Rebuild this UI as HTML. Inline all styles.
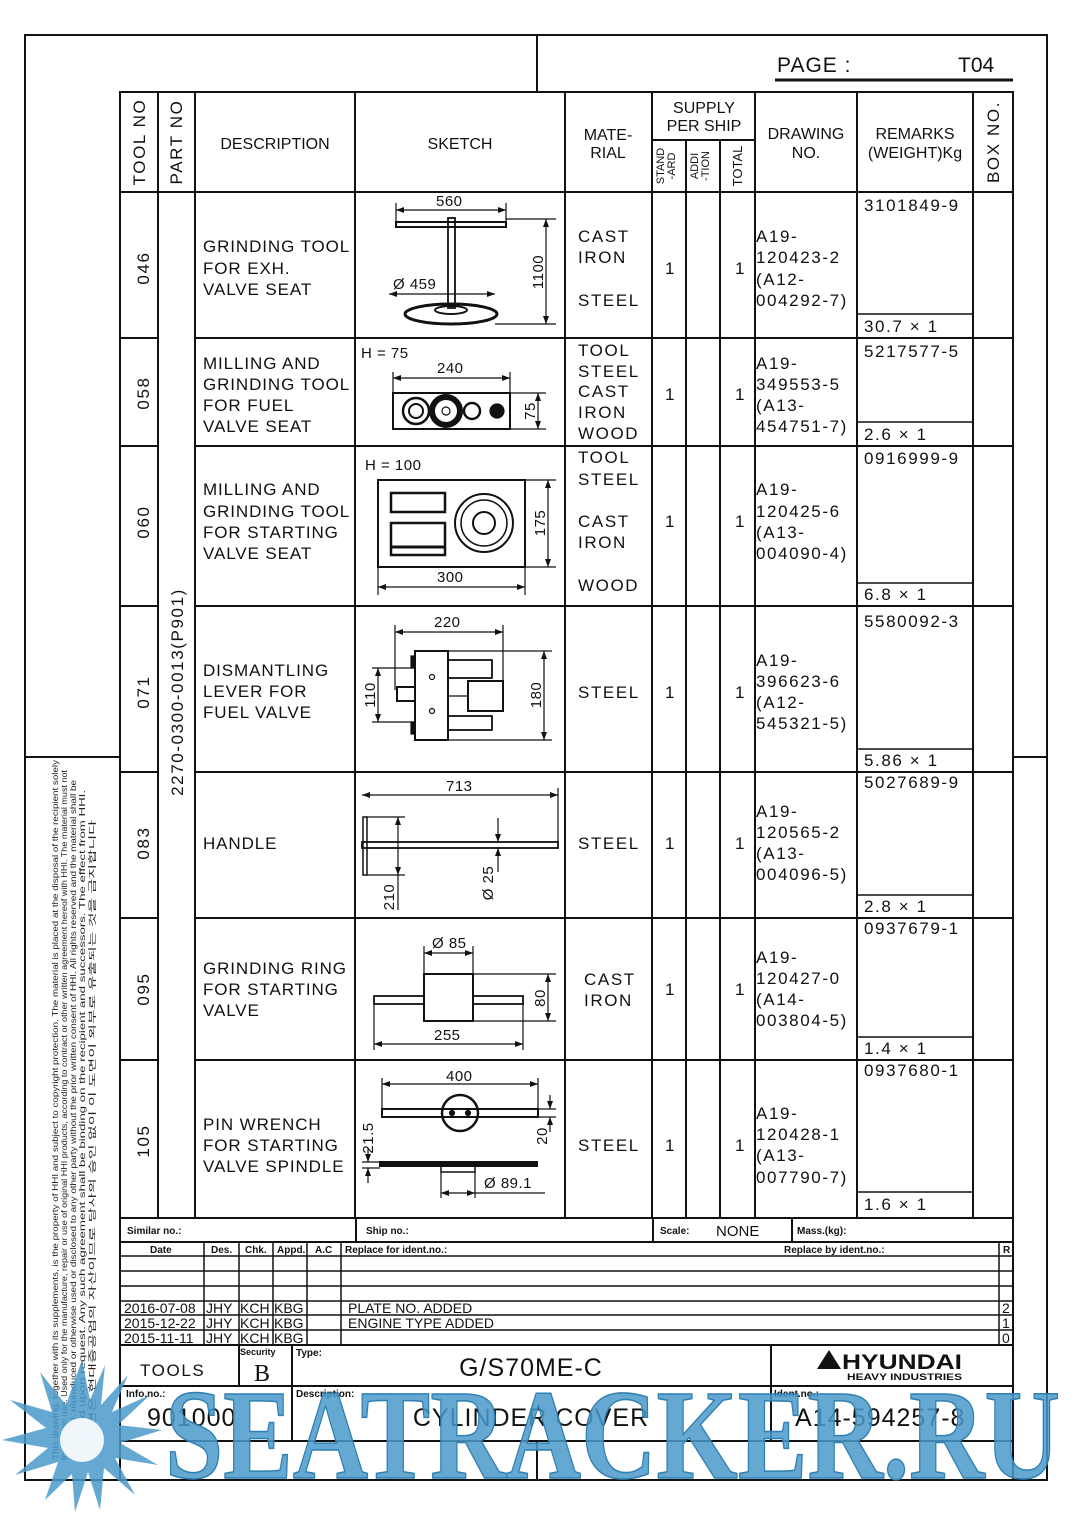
<!DOCTYPE html>
<html><head><meta charset="utf-8"><style>
html,body{margin:0;padding:0;background:#fff}
svg{display:block}
.t{font-family:"Liberation Sans",sans-serif;font-size:17px;letter-spacing:1.6px;fill:#111}
.e{font-family:"Liberation Sans",sans-serif;font-size:17px;letter-spacing:0.9px;fill:#111}
.n{font-family:"Liberation Sans Narrow","Liberation Sans",sans-serif;fill:#111}
.d{font-family:"Liberation Sans",sans-serif;font-size:15px;letter-spacing:0.5px;fill:#111}
.s{font-family:"Liberation Sans Narrow","Liberation Sans",sans-serif;font-size:10px;font-weight:bold;fill:#111}
</style></head><body>
<svg width="1080" height="1515" viewBox="0 0 1080 1515" xmlns="http://www.w3.org/2000/svg">
<defs><marker id="a" markerWidth="8" markerHeight="6" refX="8" refY="3" orient="auto-start-reverse" markerUnits="userSpaceOnUse"><path d="M0,0 L8,3 L0,6z" fill="#111"/></marker></defs>
<g fill="none" stroke="#111" stroke-width="2">
<rect x="25" y="35" width="1022" height="1445"/>
<line x1="537" y1="35" x2="537" y2="92"/>
<line x1="25" y1="757" x2="120" y2="757"/>
<line x1="1013" y1="757" x2="1047" y2="757"/>
<line x1="775" y1="80" x2="1013" y2="80" stroke-width="3"/>
<rect x="120" y="92" width="893" height="1126"/>
<line x1="120" y1="192" x2="1013" y2="192"/>
<g>
<line x1="158" y1="92" x2="158" y2="1218"/><line x1="195" y1="92" x2="195" y2="1218"/>
<line x1="355" y1="92" x2="355" y2="1218"/><line x1="565" y1="92" x2="565" y2="1218"/>
<line x1="652" y1="92" x2="652" y2="1218"/><line x1="686" y1="140" x2="686" y2="1218"/>
<line x1="720" y1="140" x2="720" y2="1218"/><line x1="755" y1="92" x2="755" y2="1218"/>
<line x1="857" y1="92" x2="857" y2="1218"/><line x1="973" y1="92" x2="973" y2="1218"/>
<line x1="652" y1="140" x2="755" y2="140"/>
</g>
<g>
<line x1="120" y1="338" x2="158" y2="338"/><line x1="195" y1="338" x2="1013" y2="338"/>
<line x1="120" y1="446" x2="158" y2="446"/><line x1="195" y1="446" x2="1013" y2="446"/>
<line x1="120" y1="606" x2="158" y2="606"/><line x1="195" y1="606" x2="1013" y2="606"/>
<line x1="120" y1="772" x2="158" y2="772"/><line x1="195" y1="772" x2="1013" y2="772"/>
<line x1="120" y1="918" x2="158" y2="918"/><line x1="195" y1="918" x2="1013" y2="918"/>
<line x1="120" y1="1060" x2="158" y2="1060"/><line x1="195" y1="1060" x2="1013" y2="1060"/>
</g>
<g stroke-width="1.5">
<line x1="857" y1="314" x2="973" y2="314"/><line x1="857" y1="422" x2="973" y2="422"/>
<line x1="857" y1="583" x2="973" y2="583"/><line x1="857" y1="749" x2="973" y2="749"/>
<line x1="857" y1="895" x2="973" y2="895"/><line x1="857" y1="1037" x2="973" y2="1037"/>
<line x1="857" y1="1192" x2="973" y2="1192"/>
</g>
<line x1="120" y1="1218" x2="120" y2="1480"/><line x1="1013" y1="1218" x2="1013" y2="1480"/>
<line x1="120" y1="1242" x2="1013" y2="1242"/>
<line x1="356" y1="1218" x2="356" y2="1242"/><line x1="653" y1="1218" x2="653" y2="1242"/><line x1="792" y1="1218" x2="792" y2="1242"/>
<g stroke-width="1.5">
<line x1="120" y1="1256" x2="1013" y2="1256"/><line x1="120" y1="1271" x2="1013" y2="1271"/>
<line x1="120" y1="1286" x2="1013" y2="1286"/><line x1="120" y1="1301" x2="1013" y2="1301"/>
<line x1="120" y1="1315" x2="1013" y2="1315"/><line x1="120" y1="1330" x2="1013" y2="1330"/>
<line x1="204" y1="1242" x2="204" y2="1345"/><line x1="239" y1="1242" x2="239" y2="1345"/>
<line x1="273" y1="1242" x2="273" y2="1345"/><line x1="307" y1="1242" x2="307" y2="1345"/>
<line x1="341" y1="1242" x2="341" y2="1345"/><line x1="999" y1="1242" x2="999" y2="1345"/>
</g>
<line x1="120" y1="1345" x2="1013" y2="1345"/>
<line x1="239" y1="1345" x2="239" y2="1386"/><line x1="292" y1="1345" x2="292" y2="1441"/><line x1="771" y1="1345" x2="771" y2="1441"/>
<line x1="120" y1="1386" x2="1013" y2="1386"/>
<line x1="120" y1="1441" x2="1013" y2="1441"/>
<line x1="537" y1="1441" x2="537" y2="1480"/>
</g>
<text class="n" x="777" y="72" font-size="21" letter-spacing="1">PAGE :</text>
<text class="n" x="958" y="72" font-size="21">T04</text>
<g class="n" font-size="16" text-anchor="middle">
<text transform="translate(145,142) rotate(-90)" class="t" font-size="15" letter-spacing="1">TOOL NO</text>
<text transform="translate(182,142) rotate(-90)" class="t" font-size="15" letter-spacing="1">PART NO</text>
<text x="275" y="149">DESCRIPTION</text>
<text x="460" y="149">SKETCH</text>
<text x="608" y="140">MATE-</text><text x="608" y="158">RIAL</text>
<text x="704" y="113">SUPPLY</text><text x="704" y="131">PER SHIP</text>
<text x="806" y="139">DRAWING</text><text x="806" y="158">NO.</text>
<text x="915" y="139">REMARKS</text><text x="915" y="158">(WEIGHT)Kg</text>
<text transform="translate(999,142) rotate(-90)" class="t" font-size="15" letter-spacing="1">BOX NO.</text>
</g>
<g font-family="Liberation Sans,sans-serif" font-size="11" fill="#111" text-anchor="middle">
<text transform="translate(664,166) rotate(-90)">STAND</text><text transform="translate(675,166) rotate(-90)">-ARD</text>
<text transform="translate(698,166) rotate(-90)">ADDI</text><text transform="translate(709,166) rotate(-90)">-TION</text>
<text transform="translate(742,166) rotate(-90)" font-size="13">TOTAL</text>
</g>
<g class="t" font-size="18" text-anchor="middle" letter-spacing="1">
<text transform="translate(149,268) rotate(-90)">046</text>
<text transform="translate(149,393) rotate(-90)">058</text>
<text transform="translate(149,522) rotate(-90)">060</text>
<text transform="translate(149,692) rotate(-90)">071</text>
<text transform="translate(149,843) rotate(-90)">083</text>
<text transform="translate(149,989) rotate(-90)">095</text>
<text transform="translate(149,1141) rotate(-90)">105</text>
<text transform="translate(183,692) rotate(-90)">2270-0300-0013(P901)</text>
</g>
<g class="e">
<text x="203" y="252">GRINDING TOOL</text><text x="203" y="274">FOR EXH.</text><text x="203" y="295">VALVE SEAT</text>
<text x="203" y="369">MILLING AND</text><text x="203" y="390">GRINDING TOOL</text><text x="203" y="411">FOR FUEL</text><text x="203" y="432">VALVE SEAT</text>
<text x="203" y="495">MILLING AND</text><text x="203" y="517">GRINDING TOOL</text><text x="203" y="538">FOR STARTING</text><text x="203" y="559">VALVE SEAT</text>
<text x="203" y="676">DISMANTLING</text><text x="203" y="697">LEVER FOR</text><text x="203" y="718">FUEL VALVE</text>
<text x="203" y="849">HANDLE</text>
<text x="203" y="974">GRINDING RING</text><text x="203" y="995">FOR STARTING</text><text x="203" y="1016">VALVE</text>
<text x="203" y="1130">PIN WRENCH</text><text x="203" y="1151">FOR STARTING</text><text x="203" y="1172">VALVE SPINDLE</text>
</g>
<g class="t">
<text x="578" y="242">CAST</text><text x="578" y="263">IRON</text><text x="578" y="306">STEEL</text>
<text x="578" y="356">TOOL</text><text x="578" y="377">STEEL</text><text x="578" y="397">CAST</text><text x="578" y="418">IRON</text><text x="578" y="439">WOOD</text>
<text x="578" y="463">TOOL</text><text x="578" y="485">STEEL</text><text x="578" y="527">CAST</text><text x="578" y="548">IRON</text><text x="578" y="591">WOOD</text>
<text x="578" y="698">STEEL</text><text x="578" y="849">STEEL</text>
<text x="584" y="985">CAST</text><text x="584" y="1006">IRON</text>
<text x="578" y="1151">STEEL</text>
<text x="665" y="274">1</text><text x="735" y="274">1</text>
<text x="665" y="400">1</text><text x="735" y="400">1</text>
<text x="665" y="527">1</text><text x="735" y="527">1</text>
<text x="665" y="698">1</text><text x="735" y="698">1</text>
<text x="665" y="849">1</text><text x="735" y="849">1</text>
<text x="665" y="995">1</text><text x="735" y="995">1</text>
<text x="665" y="1151">1</text><text x="735" y="1151">1</text>
<text x="756" y="242">A19-</text><text x="756" y="263">120423-2</text><text x="756" y="285">(A12-</text><text x="756" y="306">004292-7)</text>
<text x="756" y="369">A19-</text><text x="756" y="390">349553-5</text><text x="756" y="411">(A13-</text><text x="756" y="432">454751-7)</text>
<text x="756" y="495">A19-</text><text x="756" y="517">120425-6</text><text x="756" y="538">(A13-</text><text x="756" y="559">004090-4)</text>
<text x="756" y="666">A19-</text><text x="756" y="687">396623-6</text><text x="756" y="708">(A12-</text><text x="756" y="729">545321-5)</text>
<text x="756" y="817">A19-</text><text x="756" y="838">120565-2</text><text x="756" y="859">(A13-</text><text x="756" y="880">004096-5)</text>
<text x="756" y="963">A19-</text><text x="756" y="984">120427-0</text><text x="756" y="1005">(A14-</text><text x="756" y="1026">003804-5)</text>
<text x="756" y="1119">A19-</text><text x="756" y="1140">120428-1</text><text x="756" y="1161">(A13-</text><text x="756" y="1183">007790-7)</text>
<text x="864" y="211">3101849-9</text><text x="864" y="332">30.7 × 1</text>
<text x="864" y="357">5217577-5</text><text x="864" y="440">2.6 × 1</text>
<text x="864" y="464">0916999-9</text><text x="864" y="600">6.8 × 1</text>
<text x="864" y="627">5580092-3</text><text x="864" y="766">5.86 × 1</text>
<text x="864" y="788">5027689-9</text><text x="864" y="912">2.8 × 1</text>
<text x="864" y="934">0937679-1</text><text x="864" y="1054">1.4 × 1</text>
<text x="864" y="1076">0937680-1</text><text x="864" y="1210">1.6 × 1</text>
</g>
<g fill="none" stroke="#111" stroke-width="1.2">
<line x1="396" y1="210" x2="506" y2="210" marker-start="url(#a)" marker-end="url(#a)"/>
<line x1="396" y1="203" x2="396" y2="222"/><line x1="506" y1="203" x2="506" y2="222"/>
<rect x="396" y="222" width="110" height="5" stroke-width="2"/>
<rect x="448" y="218" width="7" height="90" stroke-width="1.8"/>
<ellipse cx="451" cy="314" rx="46" ry="10" stroke-width="3"/>
<ellipse cx="451" cy="310" rx="16" ry="4" stroke-width="2"/>
<line x1="389" y1="294" x2="495" y2="294" marker-start="url(#a)" marker-end="url(#a)"/>
<line x1="506" y1="219" x2="556" y2="219"/><line x1="495" y1="324" x2="556" y2="324"/>
<line x1="546" y1="219" x2="546" y2="324" marker-start="url(#a)" marker-end="url(#a)"/>
<line x1="393" y1="378" x2="510" y2="378" marker-start="url(#a)" marker-end="url(#a)"/>
<line x1="393" y1="372" x2="393" y2="393"/><line x1="510" y1="372" x2="510" y2="393"/>
<rect x="393" y="393" width="117" height="36" stroke-width="2"/>
<circle cx="416" cy="411" r="13" stroke-width="2.5"/><circle cx="416" cy="411" r="7" stroke-width="2"/>
<circle cx="446" cy="411" r="14" stroke-width="6"/><circle cx="446" cy="411" r="4"/>
<circle cx="472" cy="411" r="8" stroke-width="2.5"/>
<circle cx="497" cy="411" r="7" fill="#111"/>
<line x1="510" y1="393" x2="546" y2="393"/><line x1="510" y1="429" x2="546" y2="429"/>
<line x1="538" y1="393" x2="538" y2="429" marker-start="url(#a)" marker-end="url(#a)"/>
<rect x="378" y="480" width="147" height="87" stroke-width="2"/>
<rect x="391" y="493" width="54" height="19" stroke-width="2.5"/>
<rect x="391" y="523" width="54" height="32" stroke-width="2.5"/>
<line x1="392" y1="547" x2="444" y2="547" stroke-width="3"/>
<circle cx="484" cy="523" r="29" stroke-width="2"/><circle cx="484" cy="523" r="23" stroke-width="1.5"/><circle cx="484" cy="523" r="11" stroke-width="2"/>
<line x1="525" y1="480" x2="556" y2="480"/><line x1="525" y1="567" x2="556" y2="567"/>
<line x1="548" y1="480" x2="548" y2="567" marker-start="url(#a)" marker-end="url(#a)"/>
<line x1="378" y1="567" x2="378" y2="595"/><line x1="525" y1="567" x2="525" y2="595"/>
<line x1="378" y1="587" x2="525" y2="587" marker-start="url(#a)" marker-end="url(#a)"/>
<line x1="395" y1="632" x2="503" y2="632" marker-start="url(#a)" marker-end="url(#a)"/>
<line x1="395" y1="625" x2="395" y2="690"/><line x1="503" y1="625" x2="503" y2="681"/>
<rect x="415" y="651" width="33" height="89" stroke-width="2"/>
<rect x="448" y="660" width="44" height="18" stroke-width="1.8"/>
<rect x="448" y="716" width="44" height="14" stroke-width="1.8"/>
<rect x="468" y="681" width="35" height="30" stroke-width="2"/>
<line x1="448" y1="696" x2="468" y2="696"/>
<rect x="397" y="687" width="18" height="14" stroke-width="2"/>
<rect x="411" y="656" width="4" height="12" fill="#111"/><rect x="411" y="722" width="4" height="12" fill="#111"/>
<circle cx="432" cy="677" r="2.5"/><circle cx="432" cy="711" r="2.5"/>
<line x1="372" y1="668" x2="415" y2="668"/><line x1="372" y1="722" x2="415" y2="722"/>
<line x1="378" y1="668" x2="378" y2="722" marker-start="url(#a)" marker-end="url(#a)"/>
<line x1="448" y1="651" x2="552" y2="651"/><line x1="448" y1="740" x2="552" y2="740"/>
<line x1="544" y1="651" x2="544" y2="740" marker-start="url(#a)" marker-end="url(#a)"/>
<line x1="362" y1="795" x2="558" y2="795" marker-start="url(#a)" marker-end="url(#a)"/>
<line x1="558" y1="788" x2="558" y2="842"/>
<rect x="362" y="842" width="196" height="6" stroke-width="1.8"/>
<rect x="363" y="817" width="4" height="58" stroke-width="1.5"/>
<line x1="367" y1="817" x2="405" y2="817"/><line x1="367" y1="875" x2="405" y2="875"/>
<line x1="398" y1="817" x2="398" y2="875" marker-start="url(#a)" marker-end="url(#a)"/>
<line x1="398" y1="875" x2="398" y2="910"/>
<line x1="498" y1="818" x2="498" y2="842" marker-end="url(#a)"/>
<line x1="498" y1="872" x2="498" y2="848" marker-end="url(#a)"/>
<line x1="424" y1="953" x2="473" y2="953" marker-start="url(#a)" marker-end="url(#a)"/>
<line x1="424" y1="946" x2="424" y2="974"/><line x1="473" y1="946" x2="473" y2="974"/>
<rect x="424" y="974" width="49" height="47" stroke-width="2"/>
<rect x="374" y="996" width="50" height="8" stroke-width="1.8"/><rect x="473" y="996" width="50" height="8" stroke-width="1.8"/>
<line x1="473" y1="974" x2="556" y2="974"/><line x1="473" y1="1021" x2="556" y2="1021"/>
<line x1="548" y1="974" x2="548" y2="1021" marker-start="url(#a)" marker-end="url(#a)"/>
<line x1="374" y1="1004" x2="374" y2="1050"/><line x1="523" y1="1004" x2="523" y2="1050"/>
<line x1="374" y1="1044" x2="523" y2="1044" marker-start="url(#a)" marker-end="url(#a)"/>
<line x1="382" y1="1084" x2="538" y2="1084" marker-start="url(#a)" marker-end="url(#a)"/>
<line x1="382" y1="1078" x2="382" y2="1109"/><line x1="538" y1="1078" x2="538" y2="1109"/>
<rect x="382" y="1109" width="156" height="8" stroke-width="2"/>
<circle cx="460" cy="1113" r="18" stroke-width="2.5"/>
<circle cx="452" cy="1113" r="2.5" fill="#111"/><circle cx="468" cy="1113" r="2.5" fill="#111"/>
<line x1="538" y1="1109" x2="556" y2="1109"/><line x1="538" y1="1117" x2="556" y2="1117"/>
<line x1="550" y1="1095" x2="550" y2="1109" marker-end="url(#a)"/>
<line x1="550" y1="1132" x2="550" y2="1117" marker-end="url(#a)"/>
<rect x="380" y="1162" width="157" height="4" stroke-width="2" fill="#111"/>
<rect x="441" y="1166" width="34" height="6" stroke-width="1.5"/>
<line x1="362" y1="1162" x2="380" y2="1162"/><line x1="362" y1="1168" x2="380" y2="1168"/>
<line x1="368" y1="1148" x2="368" y2="1162" marker-end="url(#a)"/>
<line x1="368" y1="1183" x2="368" y2="1168" marker-end="url(#a)"/>
<line x1="441" y1="1172" x2="441" y2="1198"/><line x1="475" y1="1172" x2="475" y2="1198"/>
<line x1="441" y1="1193" x2="475" y2="1193" marker-start="url(#a)" marker-end="url(#a)"/>
<line x1="475" y1="1193" x2="545" y2="1193"/>
</g>
<g class="d">
<text x="436" y="206">560</text>
<text x="393" y="289">Ø 459</text>
<text transform="translate(543,272) rotate(-90)" text-anchor="middle">1100</text>
<text x="361" y="358">H  =  75</text>
<text x="437" y="373">240</text>
<text transform="translate(535,411) rotate(-90)" text-anchor="middle">75</text>
<text x="365" y="470">H  =  100</text>
<text transform="translate(545,523) rotate(-90)" text-anchor="middle">175</text>
<text x="437" y="582">300</text>
<text x="434" y="627">220</text>
<text transform="translate(375,695) rotate(-90)" text-anchor="middle">110</text>
<text transform="translate(541,695) rotate(-90)" text-anchor="middle">180</text>
<text x="446" y="791">713</text>
<text transform="translate(394,897) rotate(-90)" text-anchor="middle">210</text>
<text transform="translate(493,883) rotate(-90)" text-anchor="middle">Ø 25</text>
<text x="432" y="948">Ø 85</text>
<text transform="translate(545,998) rotate(-90)" text-anchor="middle">80</text>
<text x="434" y="1040">255</text>
<text x="446" y="1081">400</text>
<text transform="translate(547,1136) rotate(-90)" text-anchor="middle">20</text>
<text transform="translate(373,1138) rotate(-90)" text-anchor="middle">21.5</text>
<text x="484" y="1188">Ø 89.1</text>
</g>
<g class="s">
<text x="127" y="1234">Similar no.:</text><text x="366" y="1234">Ship no.:</text>
<text x="660" y="1234">Scale:</text><text x="797" y="1234">Mass.(kg):</text>
<text x="150" y="1253">Date</text><text x="211" y="1253">Des.</text><text x="245" y="1253">Chk.</text><text x="277" y="1253">Appd.</text><text x="315" y="1253">A.C</text>
<text x="345" y="1253">Replace for ident.no.:</text><text x="784" y="1253">Replace by ident.no.:</text><text x="1003" y="1253">R</text>
<text x="240" y="1355" font-size="9">Security</text><text x="296" y="1356">Type:</text>
<text x="126" y="1397">Info.no.:</text><text x="296" y="1397">Description:</text><text x="774" y="1397">Ident.no.:</text>
</g>
<text class="n" x="716" y="1236" font-size="15">NONE</text>
<g class="n" font-size="14">
<text x="124" y="1313">2016-07-08</text><text x="206" y="1313">JHY</text><text x="240" y="1313">KCH</text><text x="274" y="1313">KBG</text><text x="348" y="1313">PLATE NO. ADDED</text><text x="1002" y="1313">2</text>
<text x="124" y="1328">2015-12-22</text><text x="206" y="1328">JHY</text><text x="240" y="1328">KCH</text><text x="274" y="1328">KBG</text><text x="348" y="1328">ENGINE TYPE ADDED</text><text x="1002" y="1328">1</text>
<text x="124" y="1343">2015-11-11</text><text x="206" y="1343">JHY</text><text x="240" y="1343">KCH</text><text x="274" y="1343">KBG</text><text x="1002" y="1343">0</text>
</g>
<text class="t" x="140" y="1376" font-size="24" letter-spacing="0">TOOLS</text>
<text x="254" y="1381" font-family="Liberation Serif,serif" font-size="24" fill="#111">B</text>
<text class="n" x="531" y="1376" font-size="25" text-anchor="middle" fill="#333" letter-spacing="1">G/S70ME-C</text>
<path d="M817,1369 L829,1350 L841,1369z" fill="#111"/>
<text x="842" y="1369" font-family="Liberation Sans,sans-serif" font-weight="bold" font-size="21" fill="#111" textLength="120" lengthAdjust="spacingAndGlyphs">HYUNDAI</text>
<text x="847" y="1380" font-family="Liberation Sans,sans-serif" font-weight="bold" font-size="9" fill="#111" textLength="115" lengthAdjust="spacingAndGlyphs">HEAVY INDUSTRIES</text>
<text class="n" x="147" y="1426" font-size="25" letter-spacing="1">901000</text>
<text class="n" x="531" y="1426" font-size="25" text-anchor="middle" letter-spacing="1">CYLINDER COVER</text>
<text class="n" x="795" y="1426" font-size="25" letter-spacing="1">A14-594257-8</text>
<g font-family="Liberation Sans Narrow,Liberation Sans,sans-serif" font-size="8" fill="#222">
<text transform="translate(58,1460) rotate(-90)" textLength="700" lengthAdjust="spacingAndGlyphs">This drawing, together with its supplements, is the property of HHI and subject to copyright protection. The material is placed at the disposal of the recipient solely</text>
<text transform="translate(67,1460) rotate(-90)" textLength="690" lengthAdjust="spacingAndGlyphs">for its own use. Used only for the manufacture, repair or use of original HHI products, according to contract or other written agreement hereof with HHI. The material must not</text>
<text transform="translate(76,1460) rotate(-90)" textLength="680" lengthAdjust="spacingAndGlyphs">be copied, reproduced or otherwise used or disclosed to any other party without the prior written consent of HHI. All rights reserved and the material shall be</text>
<text transform="translate(85,1460) rotate(-90)" textLength="670" lengthAdjust="spacingAndGlyphs">returned upon request. Any such agreement shall be binding on the recipient and successors. The effect from HHI.</text>
<text transform="translate(95,1460) rotate(-90)" textLength="640" lengthAdjust="spacingAndGlyphs">이 도면은 현대중공업의 자산이므로 당사의 승인 없이 이 도면이 외부로 유출되는 것을 금지합니다</text>
</g>
<polygon points="82,1360 90,1400 105,1365 101,1405 128,1375 112,1412 150,1395 118,1425 162,1430 120,1443 158,1465 115,1458 135,1495 104,1468 100,1510 88,1472 75,1512 72,1474 45,1500 58,1462 15,1475 48,1448 2,1440 46,1428 10,1400 52,1412 40,1372 66,1405" fill="#4a9acb" opacity="0.85"/>
<circle cx="82" cy="1440" r="22" fill="#fff" opacity="0.9"/>
<text x="165" y="1478" font-family="Liberation Serif,serif" font-weight="bold" font-size="128" fill="#4a9acb" fill-opacity="0.85" stroke="#2f7fb0" stroke-width="1.5" textLength="895" lengthAdjust="spacingAndGlyphs">SEATRACKER.RU</text>
</svg>
</body></html>
